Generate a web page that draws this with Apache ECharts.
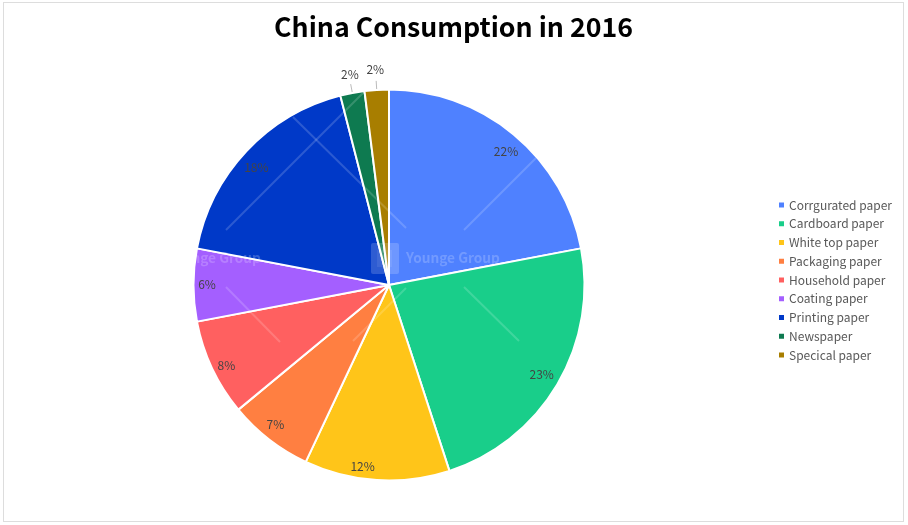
<!DOCTYPE html>
<html>
<head>
<meta charset="utf-8">
<style>
html, body { margin: 0; padding: 0; background: #fff; }
#chart { position: absolute; left: 3px; top: 2px; width: 899px; height: 518px; border: 1px solid #ddd; }
</style>
<script src="https://cdn.jsdelivr.net/npm/echarts@6/dist/echarts.min.js"></script>
</head>
<body>
<div id="chart"></div>
<script>
var categories = ['Corrgurated paper', 'Cardboard paper', 'White top paper', 'Packaging paper', 'Household paper', 'Coating paper', 'Printing paper', 'Newspaper', 'Specical paper'];
var shares = [22, 23, 12, 7, 8, 6, 18, 2, 2];
var colors = ['#4f81ff', '#19ce8a', '#ffc519', '#ff7f41', '#ff6060', '#a45fff', '#0039c8', '#0e7a50', '#a87e00'];
var outsideLabels = ['Newspaper', 'Specical paper'];

var fontName = '"Noto Sans CJK SC", "Noto Sans", sans-serif';
var labelColor = '#444';
var center = [385, 282]; // chart div starts at 4,3

// small label offsets, by category
var innerNudge = [[1, 7], [-4, -3], [-15, 0], [-2, -4], [2, 3], [0, -1], [0, 7], [0, 0], [0, 0]];
var outerNudge = { 7: [13, -10], 8: [13, -11] };

// watermark lines, only visible where they cross the pie
var markLines = [
    [222, 227, 360, 89], [289, 114, 402, 225], [460, 227, 532, 155],
    [222, 284, 276, 339], [349, 338, 402, 285], [460, 284, 515, 338]
];
var watermark = markLines.map(function (l) {
    return {
        type: 'line', z: 100, silent: true,
        shape: { x1: l[0], y1: l[1], x2: l[2], y2: l[3] },
        style: { stroke: 'rgba(255,255,255,0.17)', lineWidth: 2 }
    };
});
watermark.push({
    type: 'rect', z: 100, silent: true,
    shape: { x: 367, y: 240, width: 28, height: 31, r: 2 },
    style: { fill: 'rgba(255,255,255,0.18)' }
});
watermark.push({
    type: 'rect', z: 100, silent: true,
    shape: { x: 373, y: 247, width: 15, height: 17 },
    style: { fill: 'rgba(255,255,255,0.08)' }
});
watermark.push({
    type: 'text', z: 100, silent: true, x: 402, y: 248,
    style: { text: 'Younge Group', fill: 'rgba(255,255,255,0.2)', font: 'bold 13.7px ' + fontName }
});
watermark.push({
    type: 'text', z: 100, silent: true, x: 163, y: 248,
    style: { text: 'Younge Group', fill: 'rgba(255,255,255,0.2)', font: 'bold 13.7px ' + fontName }
});

var option = {
    backgroundColor: '#fff',
    animation: false,
    title: {
        text: 'China Consumption in 2016',
        left: 'center',
        top: 6,
        textStyle: { fontSize: 26.7, fontWeight: 'bold', color: '#000', fontFamily: fontName }
    },
    legend: {
        orient: 'vertical',
        left: 768,
        top: 191,
        icon: 'rect',
        itemWidth: 7,
        itemHeight: 7,
        itemGap: 6.75,
        data: categories,
        textStyle: { fontSize: 12, color: '#595959', fontFamily: fontName, padding: [0, 0, 0, -1] }
    },
    graphic: watermark,
    series: [
        {
            type: 'pie',
            radius: 195.5,
            center: center,
            startAngle: 90,
            avoidLabelOverlap: false,
            silent: true,
            itemStyle: { borderColor: '#fff', borderWidth: 2 },
            label: { show: false },
            labelLine: { show: false },
            data: categories.map(function (name, i) {
                var item = { name: name, value: shares[i], itemStyle: { color: colors[i] } };
                if (outsideLabels.indexOf(name) >= 0) {
                    item.label = {
                        show: true, position: 'outside', formatter: '{d}%',
                        fontSize: 12, color: labelColor, fontFamily: fontName
                    };
                    item.labelLine = { show: true, length: 9, length2: 0, lineStyle: { color: '#bbb', width: 1 } };
                }
                return item;
            }),
            labelLayout: function (params) {
                var n = outerNudge[params.dataIndex];
                return n ? { dx: n[0], dy: n[1] } : {};
            }
        },
        {
            // transparent ring that only carries the inner labels near the rim
            type: 'pie',
            radius: [163, 195],
            center: center,
            startAngle: 90,
            silent: true,
            avoidLabelOverlap: false,
            itemStyle: { color: 'transparent', borderWidth: 0 },
            label: {
                show: true, position: 'inside', formatter: '{d}%',
                fontSize: 12, color: labelColor, fontFamily: fontName
            },
            labelLine: { show: false },
            data: categories.map(function (name, i) {
                var item = { name: name, value: shares[i] };
                if (outsideLabels.indexOf(name) >= 0) item.label = { show: false };
                return item;
            }),
            labelLayout: function (params) {
                var n = innerNudge[params.dataIndex];
                return { dx: n[0], dy: n[1] };
            }
        }
    ]
};

var myChart = echarts.init(document.getElementById('chart'));
myChart.setOption(option);
</script>
</body>
</html>
